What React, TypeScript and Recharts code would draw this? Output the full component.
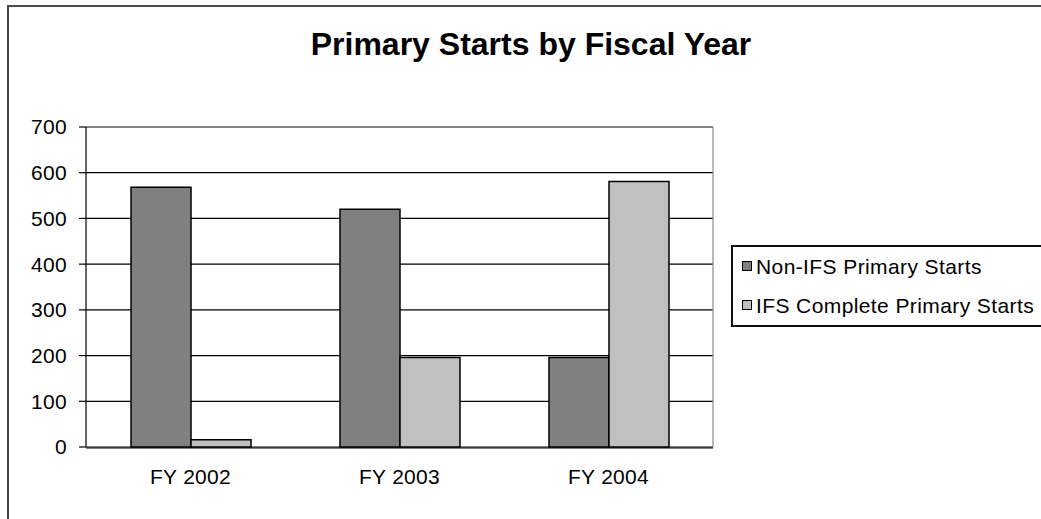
import React from 'react';
import { BarChart, Bar, XAxis, YAxis, CartesianGrid, ReferenceLine } from 'recharts';

const categories = ['FY 2002', 'FY 2003', 'FY 2004'];
const nonIfsStarts = [568, 520, 196];
const ifsCompleteStarts = [16, 196, 581];
const yTicks = [0, 100, 200, 300, 400, 500, 600, 700];
const boundaryTicks = [0, 1, 2, 3];
const seriesNames = ['Non-IFS Primary Starts', 'IFS Complete Primary Starts'];
const seriesColors = ['#808080', '#C0C0C0'];

const data = categories.map((c, i) => ({
  year: c,
  nonIfs: nonIfsStarts[i],
  ifs: ifsCompleteStarts[i],
}));

const FONT = 'Arial, "Liberation Sans", sans-serif';

export default function App() {
  return (
    <div
      style={{
        position: 'absolute',
        left: 0,
        top: 0,
        width: 1041,
        height: 519,
        overflow: 'hidden',
        background: '#fff',
        fontFamily: FONT,
      }}
    >
      <div
        style={{
          position: 'absolute',
          left: 7,
          top: 5,
          width: 1200,
          height: 700,
          border: '2px solid #4a4a4a',
          boxSizing: 'border-box',
        }}
      />
      <div
        style={{
          position: 'absolute',
          left: 0,
          top: 28,
          width: 1062,
          textAlign: 'center',
          fontSize: 32,
          lineHeight: '32px',
          fontWeight: 'bold',
          color: '#000',
        }}
      >
        Primary Starts by Fiscal Year
      </div>
      <div style={{ position: 'absolute', left: 0, top: 0 }}>
        <BarChart
          width={1041}
          height={519}
          data={data}
          margin={{ top: 127, right: 327, bottom: 70, left: 0 }}
          barCategoryGap={45}
          barGap={0}
        >
          <CartesianGrid vertical={false} stroke="#000" strokeWidth={1.2} />
          <ReferenceLine y={700} stroke="#8a8a8a" strokeWidth={1.2} />
          <XAxis
            xAxisId="b"
            type="number"
            domain={[0, 3]}
            ticks={boundaryTicks}
            allowDataOverflow
            height={1}
            tick={false}
            tickSize={6}
            tickLine={{ stroke: '#000', strokeWidth: 1.2 }}
            axisLine={{ stroke: '#000', strokeWidth: 1.2 }}
          />
          <XAxis
            dataKey="year"
            interval={0}
            height={1}
            tickLine={false}
            axisLine={false}
            tickSize={0}
            tickMargin={22}
            tick={{ fill: '#000', fontSize: 21, fontFamily: FONT, letterSpacing: 0.3 }}
          />
          <YAxis
            width={86}
            domain={[0, 700]}
            ticks={yTicks}
            interval={0}
            tickSize={7}
            tickMargin={12}
            tickLine={{ stroke: '#000', strokeWidth: 1.2 }}
            axisLine={{ stroke: '#000', strokeWidth: 1.2 }}
            tick={{ fill: '#000', fontSize: 21, fontFamily: FONT, letterSpacing: 0.3 }}
          />
          <YAxis
            yAxisId="r"
            orientation="right"
            width={1}
            domain={[0, 700]}
            tick={false}
            tickLine={false}
            axisLine={{ stroke: '#8a8a8a', strokeWidth: 1.2 }}
          />
          <Bar
            dataKey="nonIfs"
            name={seriesNames[0]}
            fill={seriesColors[0]}
            stroke="#000"
            strokeWidth={1.5}
            isAnimationActive={false}
          />
          <Bar
            dataKey="ifs"
            name={seriesNames[1]}
            fill={seriesColors[1]}
            stroke="#000"
            strokeWidth={1.5}
            isAnimationActive={false}
          />
        </BarChart>
      </div>
      <div
        style={{
          position: 'absolute',
          left: 731,
          top: 245,
          width: 400,
          height: 82,
          border: '2px solid #111',
          boxSizing: 'border-box',
        }}
      />
      {seriesNames.map((name, i) => (
        <div
          key={name}
          style={{
            position: 'absolute',
            left: 742,
            top: 255.5 + i * 39,
            height: 21,
            display: 'flex',
            alignItems: 'center',
            whiteSpace: 'nowrap',
          }}
        >
          <div
            style={{
              width: 10,
              height: 10,
              background: seriesColors[i],
              border: '1px solid #000',
              boxSizing: 'border-box',
              marginRight: 4,
            }}
          />
          <span style={{ fontSize: 21, lineHeight: '21px', color: '#000', letterSpacing: 0.4 }}>
            {name}
          </span>
        </div>
      ))}
    </div>
  );
}
